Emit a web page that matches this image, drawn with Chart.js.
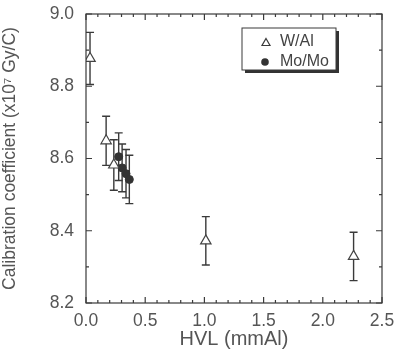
<!DOCTYPE html>
<html><head><meta charset="utf-8">
<script src="https://cdn.jsdelivr.net/npm/chart.js@4"></script>
<style>html,body{margin:0;padding:0;background:#fff}#wrap{width:398px;height:356px}</style>
</head><body><div id="wrap"><canvas id="c" width="398" height="356"></canvas></div>
<script>
const wAlHVL  = [0.034, 0.17, 0.235, 1.012, 2.26];
const wAlCoef = [8.877, 8.649, 8.582, 8.372, 8.329];
const wAlErr  = [0.072, 0.068, 0.070, 0.067, 0.067];
const moHVL   = [0.276, 0.305, 0.338, 0.366];
const moCoef  = [8.605, 8.574, 8.558, 8.542];
const moErr   = [0.066, 0.066, 0.067, 0.067];
const legendLabels = ['W/Al', 'Mo/Mo'];
const xTitle = 'HVL (mmAl)';
const yTitle = 'Calibration coefficient (x10\u2077 Gy/C)';

const AX = '#3a3a3a', TXT = '#555';
const FAM = '"Liberation Sans", Arial, sans-serif';

const errorBars = {
  id: 'errorBars',
  beforeDatasetsDraw(chart) {
    const ctx = chart.ctx, xs = chart.scales.x, ys = chart.scales.y;
    ctx.save();
    ctx.strokeStyle = AX; ctx.lineWidth = 1.4;
    chart.data.datasets.forEach(ds => {
      ds.data.forEach((p, i) => {
        const e = ds.err[i];
        const px = xs.getPixelForValue(p.x);
        const t = ys.getPixelForValue(p.y + e), b = ys.getPixelForValue(p.y - e);
        ctx.beginPath();
        ctx.moveTo(px, t); ctx.lineTo(px, b);
        ctx.moveTo(px - 4, t); ctx.lineTo(px + 4, t);
        ctx.moveTo(px - 4, b); ctx.lineTo(px + 4, b);
        ctx.stroke();
      });
    });
    ctx.restore();
  }
};

const frame = {
  id: 'frame',
  afterDraw(chart) {
    const ctx = chart.ctx, a = chart.chartArea, xs = chart.scales.x, ys = chart.scales.y;
    ctx.save();
    ctx.strokeStyle = AX; ctx.lineWidth = 1.2;
    ctx.strokeRect(a.left, a.top, a.right - a.left, a.bottom - a.top);
    ctx.beginPath();
    for (let k = 0; k <= 25; k++) {
      const v = k / 10, px = xs.getPixelForValue(v);
      const len = (k % 5 === 0) ? 6 : 3;
      ctx.moveTo(px, a.bottom); ctx.lineTo(px, a.bottom - len);
      ctx.moveTo(px, a.top); ctx.lineTo(px, a.top + len);
    }
    for (let k = 0; k <= 8; k++) {
      const v = 8.2 + k / 10, py = ys.getPixelForValue(v);
      const len = (k % 2 === 0) ? 6 : 3;
      ctx.moveTo(a.left, py); ctx.lineTo(a.left + len, py);
      ctx.moveTo(a.right, py); ctx.lineTo(a.right - len, py);
    }
    ctx.stroke();
    // legend box
    const bx = 242, by = 28, bw = 94, bh = 42;
    ctx.fillStyle = '#333';
    ctx.fillRect(bx + 3, by + bh, bw, 3);
    ctx.fillRect(bx + bw, by + 3, 3, bh);
    ctx.fillStyle = '#fff';
    ctx.fillRect(bx, by, bw, bh);
    ctx.lineWidth = 1;
    ctx.strokeRect(bx, by, bw, bh);
    // triangle marker
    ctx.beginPath();
    ctx.moveTo(266, 38.5); ctx.lineTo(270, 45.5); ctx.lineTo(262, 45.5); ctx.closePath();
    ctx.lineWidth = 1.2; ctx.stroke();
    ctx.beginPath(); ctx.arc(265, 62, 3.8, 0, Math.PI * 2);
    ctx.fillStyle = '#333'; ctx.fill();
    ctx.fillStyle = '#444';
    ctx.font = '16px ' + FAM;
    ctx.textBaseline = 'middle'; ctx.textAlign = 'left';
    ctx.fillText(legendLabels[0], 280, 42);
    ctx.fillText(legendLabels[1], 280, 62);
    ctx.restore();
  }
};

new Chart(document.getElementById('c'), {
  type: 'scatter',
  data: {
    datasets: [
      {
        label: legendLabels[0],
        data: wAlHVL.map((x, i) => ({x, y: wAlCoef[i]})),
        err: wAlErr,
        pointStyle: 'triangle', pointRadius: 6, pointBorderWidth: 1.2,
        pointBackgroundColor: '#fff', pointBorderColor: '#444'
      },
      {
        label: legendLabels[1],
        data: moHVL.map((x, i) => ({x, y: moCoef[i]})),
        err: moErr,
        pointStyle: 'circle', pointRadius: 4, pointBorderWidth: 1,
        pointBackgroundColor: '#333', pointBorderColor: '#333'
      }
    ]
  },
  options: {
    responsive: false, animation: false, devicePixelRatio: 1,
    layout: { padding: { left: 0, right: 16, top: 14, bottom: 5 } },
    plugins: { legend: { display: false }, tooltip: { enabled: false } },
    scales: {
      x: {
        type: 'linear', min: 0, max: 2.5,
        afterFit: s => { s.height = 48; s.paddingLeft = 0; s.paddingRight = 0; },
        grid: { display: false, drawTicks: false }, border: { display: false },
        ticks: { stepSize: 0.5, color: TXT, padding: 8,
          font: { size: 17.5, family: FAM },
          callback: v => Number(v).toFixed(1) },
        title: { display: true, text: xTitle, color: TXT, padding: { top: 0, bottom: 0 },
          font: { size: 20, family: FAM } }
      },
      y: {
        type: 'linear', min: 8.2, max: 9.0,
        afterFit: s => { s.width = 86; s.paddingTop = 0; s.paddingBottom = 0; },
        grid: { display: false, drawTicks: false }, border: { display: false },
        ticks: { stepSize: 0.2, color: TXT, padding: 12,
          font: { size: 17.5, family: FAM },
          callback: v => Number(v).toFixed(1) },
        title: { display: true, text: yTitle, color: TXT, padding: { top: 0, bottom: 4 },
          font: { size: 17.5, family: FAM } }
      }
    }
  },
  plugins: [errorBars, frame]
});
</script>
</body></html>
